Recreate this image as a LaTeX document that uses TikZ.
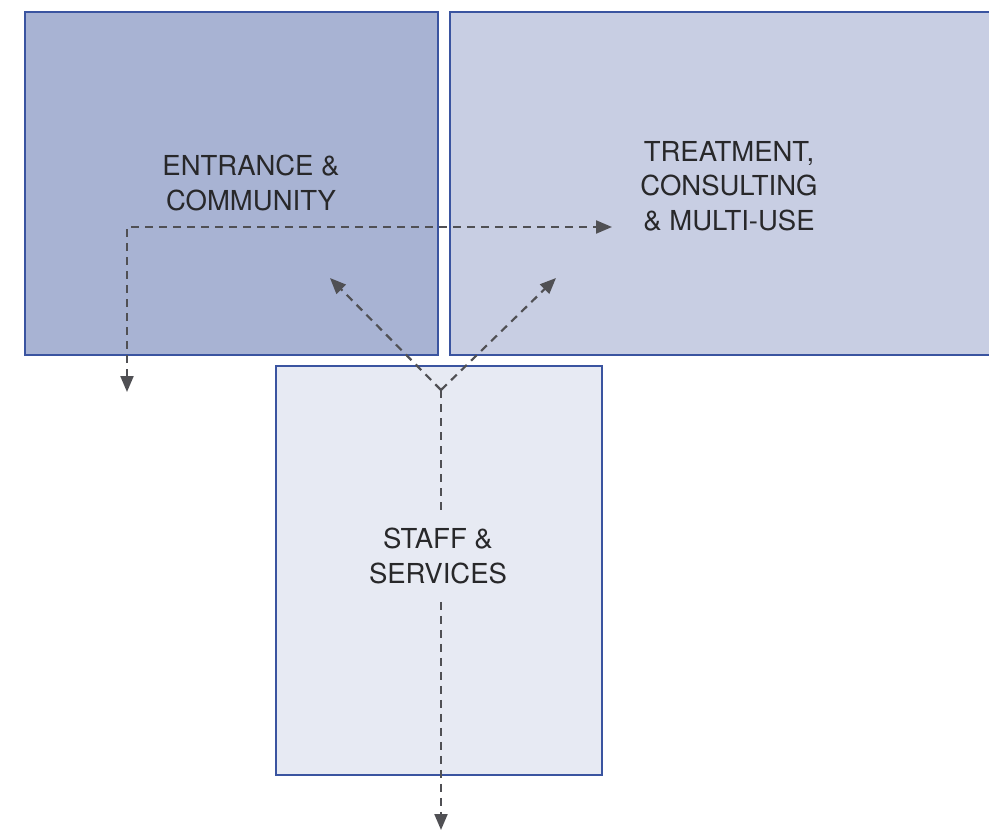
\documentclass[tikz,border=0pt]{standalone}
\usepackage{fontspec}
\setsansfont{TeX Gyre Heros}
\usepackage{tikz}
\usetikzlibrary{arrows.meta}
\definecolor{ZoneBorder}{RGB}{58,84,160}
\definecolor{ZoneColor1}{RGB}{168,179,211}
\definecolor{ZoneColor2}{RGB}{200,206,227}
\definecolor{ZoneColor3}{RGB}{231,234,243}
\definecolor{LabelColor}{RGB}{40,40,42}
\definecolor{FlowColor}{RGB}{80,80,84}

\begin{document}
\begin{tikzpicture}[x=1pt,y=-1pt,zone/.style n args={3}{fill=#1,draw=ZoneBorder,line width=1.6pt,minimum width=#2pt,minimum height=#3pt,inner sep=0pt,anchor=north west,rectangle},lbl/.style={font=\sffamily\fontsize{27.5}{34.5}\selectfont,text=LabelColor,align=center},flow/.style={draw=FlowColor,line width=2.2pt,dash pattern=on 8pt off 6pt},tip/.style={-{Triangle[length=16pt,width=13pt]}}]
\useasboundingbox (0,0) rectangle (989,838);
% zones
\node[zone={ZoneColor1}{413}{343}](entrance) at(24,11) {};
\node[zone={ZoneColor2}{560}{343}](treatment) at(449,11) {};
\node[zone={ZoneColor3}{326}{409}](staff) at(275,365) {};
% labels
\node[lbl](entranceLbl) at(251,183) {ENTRANCE \&\\COMMUNITY};
\node[lbl](treatmentLbl) at(729,186) {TREATMENT,\\CONSULTING\\\& MULTI-USE};
\node[lbl,inner ysep=18pt](staffLbl) at(438,556) {STAFF \&\\SERVICES};
% flows
\coordinate (entranceOut) at (127,392);
\coordinate (treatmentIn) at (612,227);
\coordinate (split) at (441,390);
\coordinate (entranceUp) at (330,278);
\coordinate (treatmentUp) at (556,278);
\coordinate (staffOut) at (441,830);
\draw[flow,{Triangle[length=16pt,width=13pt]}-{Triangle[length=16pt,width=13pt]}] (entranceOut) |- (treatmentIn);
\draw[flow,tip] (split) -- (entranceUp);
\draw[flow,tip] (split) -- (treatmentUp);
\draw[flow] (split) -- (split |- staffLbl.north);
\draw[flow,tip] (split |- staffLbl.south) -- (staffOut);
\end{tikzpicture}
\end{document}
